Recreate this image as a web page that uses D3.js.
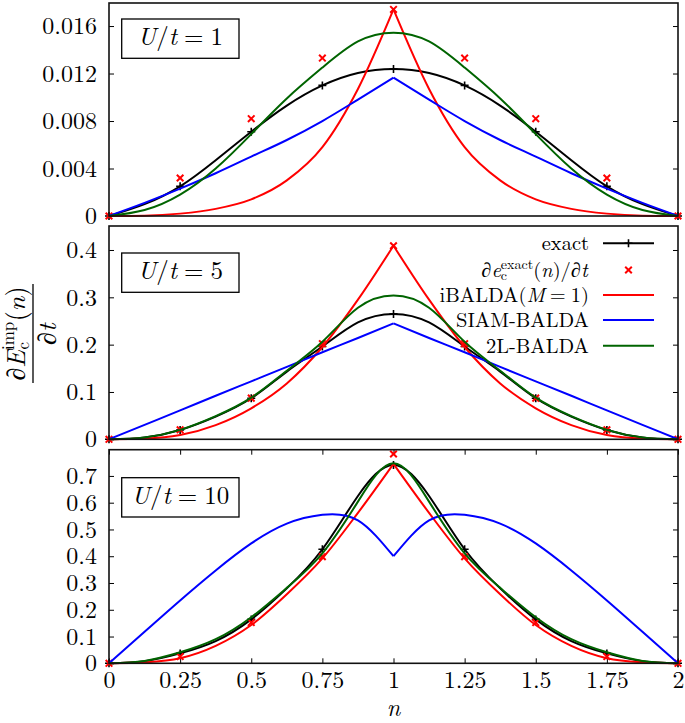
<!DOCTYPE html>
<html><head><meta charset="utf-8">
<script src="https://cdn.jsdelivr.net/npm/d3@7"></script>
<style>
body{margin:0;background:#fff}
svg{display:block}
</style>
</head><body>
<svg id="c" width="685" height="723"></svg>
<script>
// ---------------- DATA ----------------
const nGrid  = [0, 0.125, 0.25, 0.375, 0.5, 0.625, 0.75, 0.875, 1, 1.125, 1.25, 1.375, 1.5, 1.625, 1.75, 1.875, 2];
const nMarks = [0, 0.25, 0.5, 0.75, 1, 1.25, 1.5, 1.75, 2];
const xTicks = [0, 0.25, 0.5, 0.75, 1, 1.25, 1.5, 1.75, 2];
const xTickLabels = ["0", "0.25", "0.5", "0.75", "1", "1.25", "1.5", "1.75", "2"];

// U/t = 1
const exact1  = [0, 0.0010, 0.0025, 0.0047, 0.0071, 0.0093, 0.0110, 0.01205, 0.01238, 0.01205, 0.0110, 0.0093, 0.0071, 0.0047, 0.0025, 0.0010, 0];
const dexact1 = [0, 0.0032, 0.0082, 0.0133, 0.0174, 0.0133, 0.0082, 0.0032, 0];
const ibalda1 = [0, 0.00003, 0.0002, 0.0006, 0.0014, 0.0030, 0.0058, 0.0107, 0.0174, 0.0107, 0.0058, 0.0030, 0.0014, 0.0006, 0.0002, 0.00003, 0];
const siam1   = [0, 0.0011, 0.0023, 0.0036, 0.0050, 0.0064, 0.0080, 0.0098, 0.01165, 0.0098, 0.0080, 0.0064, 0.0050, 0.0036, 0.0023, 0.0011, 0];
const twoL1   = [0, 0.0005, 0.0018, 0.0040, 0.0069, 0.0099, 0.0125, 0.0147, 0.01544, 0.0147, 0.0125, 0.0099, 0.0069, 0.0040, 0.0018, 0.0005, 0];
const yTicks1 = [0, 0.004, 0.008, 0.012, 0.016];
const yLabels1 = ["0", "0.004", "0.008", "0.012", "0.016"];

// U/t = 5
const exact2  = [0, 0.004, 0.0197, 0.048, 0.0867, 0.143, 0.196, 0.247, 0.265, 0.247, 0.196, 0.143, 0.0867, 0.048, 0.0197, 0.004, 0];
const dexact2 = [0, 0.020, 0.087, 0.202, 0.409, 0.202, 0.087, 0.020, 0];
const ibalda2 = [0, 0.0015, 0.009, 0.030, 0.0655, 0.118, 0.195, 0.295, 0.409, 0.295, 0.195, 0.118, 0.0655, 0.030, 0.009, 0.0015, 0];
const siam2   = [0, 0.0305, 0.061, 0.092, 0.1225, 0.153, 0.184, 0.214, 0.245, 0.214, 0.184, 0.153, 0.1225, 0.092, 0.061, 0.0305, 0];
const twoL2   = [0, 0.004, 0.020, 0.049, 0.088, 0.145, 0.206, 0.278, 0.304, 0.278, 0.206, 0.145, 0.088, 0.049, 0.020, 0.004, 0];
const yTicks2 = [0, 0.1, 0.2, 0.3, 0.4];
const yLabels2 = ["0", "0.1", "0.2", "0.3", "0.4"];

// U/t = 10
const exact3  = [0, 0.008, 0.037, 0.083, 0.164, 0.280, 0.426, 0.625, 0.741, 0.625, 0.426, 0.280, 0.164, 0.083, 0.037, 0.008, 0];
const dexact3 = [0, 0.025, 0.152, 0.398, 0.782, 0.398, 0.152, 0.025, 0];
const ibalda3 = [0, 0.004, 0.019, 0.065, 0.143, 0.258, 0.392, 0.562, 0.745, 0.562, 0.392, 0.258, 0.143, 0.065, 0.019, 0.004, 0];
const siam3   = [0, 0.118, 0.235, 0.347, 0.448, 0.522, 0.555, 0.534, 0.400, 0.534, 0.555, 0.522, 0.448, 0.347, 0.235, 0.118, 0];
const twoL3   = [0, 0.009, 0.041, 0.090, 0.172, 0.282, 0.411, 0.604, 0.747, 0.604, 0.411, 0.282, 0.172, 0.090, 0.041, 0.009, 0];
const yTicks3 = [0, 0.1, 0.2, 0.3, 0.4, 0.5, 0.6, 0.7];
const yLabels3 = ["0", "0.1", "0.2", "0.3", "0.4", "0.5", "0.6", "0.7"];

const panelLabels = ["1", "5", "10"];
const legendNames = ["exact", "dexact", "iBALDA", "SIAM-BALDA", "2L-BALDA"];

// ---------------- LAYOUT ----------------
const FONT = "'Latin Modern Roman','Liberation Serif',serif";
const COL = {exact: "#000000", pts: "#ff0000", ib: "#ff0000", siam: "#0000ff", tl: "#006400"};
const svg = d3.select("#c");
const x = d3.scaleLinear().domain([0, 2]).range([109, 678]);

const panels = [
  {top: 3,     bottom: 216,   ymax: 0.01794, ticks: yTicks1, labels: yLabels1, exact: exact1, pts: dexact1, ib: ibalda1, siam: siam1, tl: twoL1, box: 19},
  {top: 226,   bottom: 439.3, ymax: 0.4507,  ticks: yTicks2, labels: yLabels2, exact: exact2, pts: dexact2, ib: ibalda2, siam: siam2, tl: twoL2, box: 253},
  {top: 449.7, bottom: 663.3, ymax: 0.798,   ticks: yTicks3, labels: yLabels3, exact: exact3, pts: dexact3, ib: ibalda3, siam: siam3, tl: twoL3, box: 477.7}
];

const plusPath = "M-4,0H4M0,-4V4";
const crossPath = "M-3.3,-3.3L3.3,3.3M-3.3,3.3L3.3,-3.3";

function textW(str, size, italic) {
  const t = svg.append("text").style("font-family", FONT).attr("font-size", size)
    .attr("font-style", italic ? "italic" : "normal").text(str);
  const w = t.node().getComputedTextLength();
  t.remove();
  return w;
}
function mathText(parent, parts, size) {
  const t = parent.append("text").style("font-family", FONT).attr("font-size", size).attr("fill", "#000");
  parts.forEach(p => {
    const ts = t.append("tspan").text(p.t);
    if (p.it) ts.attr("font-style", "italic");
    if (p.fs) ts.attr("font-size", p.fs);
    if (p.dy) ts.attr("dy", p.dy);
    if (p.dx) ts.attr("dx", p.dx);
  });
  return t;
}

panels.forEach((p, i) => {
  const y = d3.scaleLinear().domain([0, p.ymax]).range([p.bottom, p.top]);
  const g = svg.append("g");

  const axl = g.append("g").attr("transform", `translate(${x(0)},0)`)
    .call(d3.axisLeft(y).tickValues(p.ticks).tickFormat(d => p.labels[p.ticks.indexOf(d)])
      .tickSizeInner(-5).tickSizeOuter(0).tickPadding(12));
  axl.select(".domain").remove();
  axl.selectAll("text").style("font-family", FONT).attr("font-size", 24).attr("fill", "#000");
  axl.selectAll("line").attr("stroke", "#000");

  const axr = g.append("g").attr("transform", `translate(${x(2)},0)`)
    .call(d3.axisRight(y).tickValues(p.ticks).tickFormat("").tickSizeInner(-5).tickSizeOuter(0));
  axr.select(".domain").remove();
  axr.selectAll("line").attr("stroke", "#000");

  if (i === 2) {
    const axb = g.append("g").attr("transform", `translate(0,${p.bottom})`)
      .call(d3.axisBottom(x).tickValues(xTicks).tickFormat(d => xTickLabels[xTicks.indexOf(d)])
        .tickSizeInner(-5).tickSizeOuter(0).tickPadding(8));
    axb.select(".domain").remove();
    axb.selectAll("text").style("font-family", FONT).attr("font-size", 24).attr("fill", "#000");
    axb.selectAll("line").attr("stroke", "#000");
    const axt = g.append("g").attr("transform", `translate(0,${p.top})`)
      .call(d3.axisTop(x).tickValues(xTicks).tickFormat("").tickSizeInner(-5).tickSizeOuter(0));
    axt.select(".domain").remove();
    axt.selectAll("line").attr("stroke", "#000");
  }

  const smooth = d3.line().x(d => x(d[0])).y(d => y(d[1])).curve(d3.curveNatural);
  const mono = d3.line().x(d => x(d[0])).y(d => y(d[1])).curve(d3.curveMonotoneX);
  const pairs = arr => nGrid.map((n, k) => [n, arr[k]]);
  const drawSmooth = (arr, col) => g.append("path").attr("d", smooth(pairs(arr)))
    .attr("fill", "none").attr("stroke", col).attr("stroke-width", 2);
  const drawCusp = (arr, col, gen) => {
    const d = pairs(arr);
    [d.slice(0, 9), d.slice(8)].forEach(seg => g.append("path").attr("d", gen(seg))
      .attr("fill", "none").attr("stroke", col).attr("stroke-width", 2));
  };

  drawSmooth(p.exact, COL.exact);
  g.selectAll(null).data(nMarks).enter().append("path")
    .attr("d", plusPath).attr("transform", n => `translate(${x(n)},${y(p.exact[nGrid.indexOf(n)])})`)
    .attr("stroke", COL.exact).attr("stroke-width", 1.6).attr("fill", "none");
  g.selectAll(null).data(nMarks).enter().append("path")
    .attr("d", crossPath).attr("transform", (n, k) => `translate(${x(n)},${y(p.pts[k])})`)
    .attr("stroke", COL.pts).attr("stroke-width", 2).attr("fill", "none");
  drawCusp(p.ib, COL.ib, mono);
  drawCusp(p.siam, COL.siam, i === 2 ? smooth : mono);
  drawSmooth(p.tl, COL.tl);

  g.append("rect").attr("x", x(0)).attr("y", p.top).attr("width", x(2) - x(0)).attr("height", p.bottom - p.top)
    .attr("fill", "none").attr("stroke", "#111").attr("stroke-width", 1.6);

  g.append("rect").attr("x", 121.7).attr("y", p.box).attr("width", 117.3).attr("height", 39.3)
    .attr("fill", "#fff").attr("stroke", "#000").attr("stroke-width", 1.3);
  const lbl = mathText(g, [{t: "U", it: true}, {t: "/"}, {t: "t", it: true}, {t: "=", dx: 7}, {t: panelLabels[i], dx: 7}], 25);
  const bb = lbl.node().getBBox();
  lbl.attr("x", 180.3 - bb.width / 2 - bb.x).attr("y", p.box + 26);
});

// ---------------- LEGEND ----------------
const legY = [243.3, 270, 295, 320, 345.7];
const legRight = 589, legX0 = 603, legX1 = 654;
const lg = svg.append("g");
function rightText(parts, yc) {
  const t = mathText(lg, parts, 20.5);
  t.attr("y", yc + 7);
  const bb = t.node().getBBox();
  t.attr("x", legRight - (bb.x + bb.width));
}
const wEx = textW("exact", 14, false), wC = textW("c", 14, false);
rightText([{t: legendNames[0]}], legY[0]);
rightText([{t: "∂"}, {t: "e", it: true}, {t: "exact", fs: 14, dy: -8}, {t: "c", fs: 14, dy: 11, dx: -wEx},
  {t: "(", dy: -3, dx: wEx - wC}, {t: "n", it: true}, {t: ")/∂"}, {t: "t", it: true}], legY[1]);
rightText([{t: "iBALDA("}, {t: "M", it: true}, {t: "=", dx: 5}, {t: "1", dx: 5}, {t: ")"}], legY[2]);
rightText([{t: legendNames[3]}], legY[3]);
rightText([{t: legendNames[4]}], legY[4]);

const sample = (yc, col) => lg.append("line").attr("x1", legX0).attr("x2", legX1).attr("y1", yc).attr("y2", yc)
  .attr("stroke", col).attr("stroke-width", 2);
sample(legY[0], COL.exact);
lg.append("path").attr("d", plusPath).attr("transform", `translate(${(legX0 + legX1) / 2},${legY[0]})`)
  .attr("stroke", "#000").attr("stroke-width", 1.6);
lg.append("path").attr("d", crossPath).attr("transform", `translate(${(legX0 + legX1) / 2},${legY[1]})`)
  .attr("stroke", COL.pts).attr("stroke-width", 2);
sample(legY[2], COL.ib);
sample(legY[3], COL.siam);
sample(legY[4], COL.tl);

// ---------------- AXIS TITLES ----------------
svg.append("text").attr("x", 393.5).attr("y", 716).attr("text-anchor", "middle").style("font-family", FONT)
  .attr("font-size", 24).attr("font-style", "italic").text("n");

const yl = svg.append("g").attr("transform", "translate(33,333.5) rotate(-90)");
yl.append("line").attr("x1", -49.5).attr("x2", 49.5).attr("y1", 0).attr("y2", 0).attr("stroke", "#000").attr("stroke-width", 1.3);
const wImp = textW("imp", 17, false), wC2 = textW("c", 17, false);
const num = mathText(yl, [{t: "∂"}, {t: "E", it: true}, {t: "imp", fs: 17, dy: -11}, {t: "c", fs: 17, dy: 15, dx: -wImp},
  {t: "(", dy: -4, dx: wImp - wC2}, {t: "n", it: true}, {t: ")"}], 26);
num.attr("y", -8);
let nb = num.node().getBBox();
num.attr("x", -nb.width / 2 - nb.x);
const den = mathText(yl, [{t: "∂"}, {t: "t", it: true}], 26);
den.attr("y", 23);
nb = den.node().getBBox();
den.attr("x", -nb.width / 2 - nb.x);
</script>
</body></html>
